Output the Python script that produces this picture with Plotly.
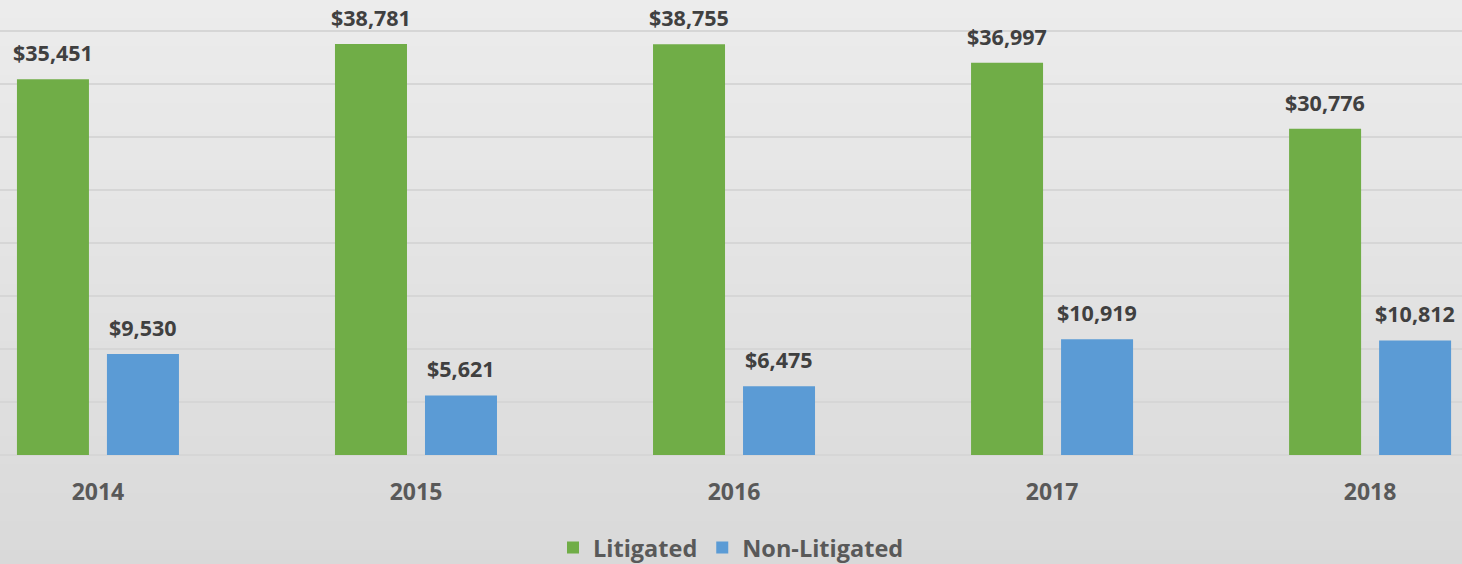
import plotly.graph_objects as go

years = ["2014", "2015", "2016", "2017", "2018"]
litigated = [35451, 38781, 38755, 36997, 30776]
non_litigated = [9530, 5621, 6475, 10919, 10812]

GREEN = "#70AD47"
BLUE = "#5B9BD5"
FONT = "Open Sans"

idx = list(range(len(years)))
bargap = 0.434
bargroupgap = 0.2
slot = (1 - bargap) / 2

fig = go.Figure()
fig.add_trace(go.Bar(x=idx, y=litigated, name="Litigated", marker_color=GREEN,
                     marker_line_width=0))
fig.add_trace(go.Bar(x=idx, y=non_litigated, name="Non-Litigated", marker_color=BLUE,
                     marker_line_width=0))

# value labels
annos = []
for series, sign in ((litigated, -1), (non_litigated, 1)):
    for i, v in zip(idx, series):
        annos.append(dict(x=i + sign * slot / 2, y=v, xref="x", yref="y",
                          text=f"${v:,}", showarrow=False, yanchor="bottom",
                          yshift=10,
                          font=dict(family=FONT, size=21.5, color="#404040", weight="bold")))

# background gradient (top light -> bottom darker)
shapes = []
n = 60
top = (236, 236, 236)
bot = (217, 217, 217)
y0p = -115 / 455
for k in range(n):
    t = k / (n - 1)
    c = tuple(round(top[j] + (bot[j] - top[j]) * t) for j in range(3))
    ya = 1 - (1 - y0p) * k / n
    yb = 1 - (1 - y0p) * (k + 1) / n
    shapes.append(dict(type="rect", xref="paper", yref="paper", x0=-0.05, x1=1.05,
                       y0=yb - 0.002, y1=ya + 0.002, fillcolor=f"rgb{c}",
                       line_width=0, layer="below"))

fig.update_layout(
    width=1462, height=564,
    margin=dict(l=0, r=0, t=0, b=109, autoexpand=False),
    barmode="group", bargap=bargap, bargroupgap=bargroupgap,
    paper_bgcolor="rgb(217,217,217)", plot_bgcolor="rgba(0,0,0,0)",
    shapes=shapes, annotations=annos,
    showlegend=True,
    legend=dict(orientation="h", x=0.5, xanchor="center", y=-0.204, yanchor="middle",
                font=dict(family=FONT, size=23.5, color="#595959", weight="bold"),
                bgcolor="rgba(0,0,0,0)", itemwidth=30),
    xaxis=dict(tickmode="array", tickvals=idx, ticktext=years,
               range=[-0.308, 4.289], showgrid=False, zeroline=False,
               ticks="", ticklabelstandoff=21, automargin=False,
               tickfont=dict(family=FONT, size=23, color="#595959", weight="bold")),
    yaxis=dict(range=[0, 42925], dtick=5000, showticklabels=False, automargin=False,
               showgrid=True, gridcolor="#d6d6d6", gridwidth=2,
               zeroline=True, zerolinecolor="#d6d6d6", zerolinewidth=2),
)

fig.write_html("out.html", config={"displayModeBar": False},
               post_script="document.body.style.margin='0';document.body.style.padding='0';")
